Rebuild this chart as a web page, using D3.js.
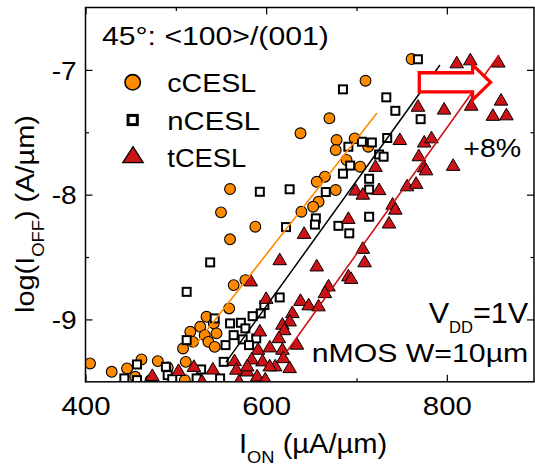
<!DOCTYPE html>
<html><head><meta charset="utf-8">
<script src="https://cdn.jsdelivr.net/npm/d3@7"></script>
<style>body{margin:0;background:#fff}svg{display:block}text{font-family:"Liberation Sans",Arial,sans-serif}</style>
</head><body>
<svg id="c" width="535" height="466"></svg>
<script>
// ---------- data ----------
const xMajorTicks = [400, 600, 800];
const xMinorTicks = [500, 700];
const yMajorTicks = [-9, -8, -7];
const yMinorTicks = [-8.5, -7.5];
const seriesNames = ["cCESL", "nCESL", "tCESL"];

const cCESL = [[761,-6.913],[710,-7.087],[670,-7.388],[638,-7.508],[678,-7.562],[677,-7.642],[698,-7.549],[689,-7.722],[704,-7.776],[713,-7.616],[665,-7.856],[656,-7.897],[677,-7.963],[658,-8.057],[652,-8.097],[639,-8.137],[588,-8.257],[560,-7.955],[550,-8.142],[560,-8.358],[577,-8.685],[564,-8.725],[559,-8.912],[534,-8.979],[527,-9.059],[542,-9.032],[516,-9.099],[545,-9.112],[532,-9.126],[519,-9.18],[536,-9.18],[508,-9.233],[543,-9.22],[511,-9.34],[510,-9.487],[491,-9.385],[480,-9.334],[462,-9.321],[455,-9.46],[446,-9.393],[429,-9.42],[405,-9.353],[472,-9.487]];

const nCESL = [[768,-6.915],[685,-7.156],[733,-7.22],[743,-7.328],[771,-7.395],[734,-7.546],[691,-7.616],[706,-7.576],[717,-7.582],[725,-7.678],[730,-7.696],[693,-7.767],[685,-7.832],[714,-7.873],[714,-7.959],[666,-7.979],[626,-7.957],[593,-7.977],[655,-8.19],[654,-8.24],[622,-8.26],[680,-8.25],[692,-8.31],[714,-8.177],[538,-8.543],[512,-8.779],[615,-8.824],[598,-8.885],[594,-8.952],[585,-8.974],[543,-8.992],[560,-9.032],[572,-9.027],[577,-9.072],[564,-9.126],[574,-9.16],[589,-9.152],[555,-9.206],[581,-9.206],[512,-9.166],[457,-9.361],[489,-9.38],[491,-9.447],[528,-9.401],[553,-9.34],[443,-9.473],[457,-9.487],[523,-9.473],[549,-9.473],[496,-9.479]];

const tCESL = [[811,-6.937],[826,-6.913],[857,-6.931],[860,-7.236],[827,-7.277],[851,-7.358],[866,-7.354],[797,-7.308],[768,-7.285],[748,-7.552],[775,-7.572],[783,-7.538],[769,-7.682],[775,-7.771],[777,-7.795],[807,-7.759],[721,-7.767],[756,-7.923],[766,-7.903],[725,-7.953],[699,-7.957],[707,-7.99],[740,-8.07],[743,-8.11],[736,-8.221],[691,-8.184],[642,-8.304],[707,-8.424],[709,-8.532],[615,-8.515],[656,-8.565],[691,-8.645],[694,-8.665],[669,-8.725],[665,-8.779],[583,-8.685],[600,-8.825],[638,-8.841],[647,-8.877],[658,-8.885],[629,-8.939],[626,-9.006],[618,-9.032],[593,-9.086],[620,-9.076],[614,-9.14],[634,-9.192],[604,-9.214],[618,-9.233],[591,-9.233],[596,-9.326],[584,-9.31],[565,-9.324],[619,-9.3],[610,-9.366],[567,-9.393],[579,-9.407],[590,-9.447],[570,-9.487],[520,-9.37],[503,-9.403],[541,-9.391],[474,-9.443],[529,-9.487],[599,-9.471],[626,-9.38],[579,-9.366],[604,-9.366]];

const fitC = [[519,-9.23],[722.7,-7.345]];
const fitN = [[555.6,-9.342],[792.4,-6.961]];
const fitT = [[620.9,-9.277],[857.7,-6.88]];
const shiftArrow = {x0: 769.5, x1: 848.4, y: -7.1};

// ---------- layout ----------
const svg = d3.select("#c");
const L = 85.5, R = 534, T = 7.5, B = 381.8;
const x = d3.scaleLinear().domain([400, 896.5]).range([L, R]);
const y = d3.scaleLinear().domain([-9.5, -6.5]).range([B, T]);
const ORANGE = "#ff8a00", RED = "#cc1418";

function fit(el, ax, target) {
  const w = el.getBBox().width;
  if (w > 0) d3.select(el).attr("transform", `translate(${ax},0) scale(${target / w},1) translate(${-ax},0)`);
}

svg.append("defs").append("clipPath").attr("id", "clip")
  .append("rect").attr("x", L).attr("y", T).attr("width", R - L).attr("height", B - T);

// axes (ticks inward)
function styleAxis(g) { g.select(".domain").remove(); g.selectAll("line").attr("stroke", "#000").attr("stroke-width", 1.2); }
svg.append("g").attr("transform", `translate(0,${B})`)
  .call(d3.axisBottom(x).tickValues(xMajorTicks).tickSize(-7).tickFormat(d3.format("d")))
  .call(styleAxis)
  .call(g => g.selectAll("text").attr("y", 33.2).attr("dy", 0).attr("font-size", 25.5).attr("fill", "#000")
    .each(function () { fit(this, 0, 49); }));
svg.append("g").attr("transform", `translate(0,${B})`)
  .call(d3.axisBottom(x).tickValues(xMinorTicks).tickSize(-3.5).tickFormat(""))
  .call(styleAxis);
svg.append("g").attr("transform", `translate(0,${T})`)
  .call(d3.axisTop(x).tickValues(xMajorTicks).tickSize(-7).tickFormat("")).call(styleAxis);
svg.append("g").attr("transform", `translate(0,${T})`)
  .call(d3.axisTop(x).tickValues(xMinorTicks).tickSize(-3.5).tickFormat("")).call(styleAxis);

svg.append("g").attr("transform", `translate(${L},0)`)
  .call(d3.axisLeft(y).tickValues(yMajorTicks).tickSize(-7).tickPadding(8.8).tickFormat(d => d3.format("d")(d).replace("−", "-")))
  .call(styleAxis)
  .call(g => g.selectAll("text").attr("dy", "0.37em").attr("font-size", 25).attr("fill", "#000")
    .each(function () { fit(this, -8.8, 25); }));
svg.append("g").attr("transform", `translate(${L},0)`)
  .call(d3.axisLeft(y).tickValues(yMinorTicks).tickSize(-3.5).tickFormat("")).call(styleAxis);
svg.append("g").attr("transform", `translate(${R},0)`)
  .call(d3.axisRight(y).tickValues(yMajorTicks).tickSize(-7).tickFormat("")).call(styleAxis);
svg.append("g").attr("transform", `translate(${R},0)`)
  .call(d3.axisRight(y).tickValues(yMinorTicks).tickSize(-3.5).tickFormat("")).call(styleAxis);

// markers
const plot = svg.append("g").attr("clip-path", "url(#clip)");
const tri = (w, h) => `M0,${-h / 2}L${w / 2},${h / 2}L${-w / 2},${h / 2}Z`;

plot.append("g").selectAll("circle").data(cCESL).join("circle")
  .attr("cx", d => x(d[0])).attr("cy", d => y(d[1])).attr("r", 5.4)
  .attr("fill", ORANGE).attr("stroke", "#000").attr("stroke-width", 1.1);
plot.append("g").selectAll("rect").data(nCESL).join("rect")
  .attr("x", d => x(d[0]) - 4).attr("y", d => y(d[1]) - 4).attr("width", 8).attr("height", 8)
  .attr("fill", "#fff").attr("stroke", "#000").attr("stroke-width", 2);
plot.append("g").selectAll("path").data(tCESL).join("path")
  .attr("transform", d => `translate(${x(d[0])},${y(d[1])})`).attr("d", tri(13.6, 11.6))
  .attr("fill", RED).attr("stroke", "#000").attr("stroke-width", 1).attr("stroke-linejoin", "miter");

// fit lines
const line = d3.line().x(d => x(d[0])).y(d => y(d[1]));
plot.append("path").attr("d", line(fitC)).attr("stroke", ORANGE).attr("stroke-width", 1.6).attr("fill", "none");
plot.append("path").attr("d", line(fitN)).attr("stroke", "#000").attr("stroke-width", 1.5).attr("fill", "none");
plot.append("path").attr("d", line(fitT)).attr("stroke", RED).attr("stroke-width", 1.6).attr("fill", "none");

// block arrow
{
  const ax0 = x(shiftArrow.x0), ax1 = x(shiftArrow.x1), ay = y(shiftArrow.y);
  const hb = ax1 - 18, bh = 9.6, hh = 17.5;
  const pts = [[ax0, ay - bh], [hb, ay - bh], [hb, ay - hh], [ax1, ay], [hb, ay + hh], [hb, ay + bh], [ax0, ay + bh]];
  svg.append("path").attr("d", "M" + pts.join("L") + "Z")
    .attr("fill", "#fff").attr("stroke", "#ff0000").attr("stroke-width", 3.3).attr("stroke-linejoin", "miter");
}

// frame
svg.append("rect").attr("x", L).attr("y", T).attr("width", R - L).attr("height", B - T)
  .attr("fill", "none").attr("stroke", "#000").attr("stroke-width", 1.5);

// legend
const lg = svg.append("g");
lg.append("circle").attr("cx", 132.7).attr("cy", 82.3).attr("r", 7.7).attr("fill", ORANGE).attr("stroke", "#000").attr("stroke-width", 1.6);
lg.append("rect").attr("x", 132.7 - 4.6).attr("y", 120 - 4.6).attr("width", 9.2).attr("height", 9.2).attr("fill", "#fff").attr("stroke", "#000").attr("stroke-width", 3);
lg.append("path").attr("transform", "translate(133,154.7)").attr("d", tri(20.5, 16)).attr("fill", RED).attr("stroke", "#000").attr("stroke-width", 1.3);
const legY = [91.7, 130, 167.3], legW = [89, 92.7, 79];
seriesNames.forEach((s, i) => {
  const t = lg.append("text").attr("x", 167.3).attr("y", legY[i]).attr("font-size", 25.5).text(s);
  fit(t.node(), 167.3, legW[i]);
});

// annotations
function addText(txt, xx, yy, fs, anchor, width) {
  const t = svg.append("text").attr("x", xx).attr("y", yy).attr("font-size", fs).attr("text-anchor", anchor).text(txt);
  fit(t.node(), xx, width);
  return t;
}
addText("45°: <100>/(001)", 102, 45, 26, "start", 227);
addText("+8%", 463.3, 156.7, 25.5, "start", 58);
addText("nMOS W=10µm", 528.3, 361.7, 25.5, "end", 216.7);
{
  const t = svg.append("text").attr("x", 528.3).attr("y", 323.3).attr("font-size", 29.5).attr("text-anchor", "end");
  t.append("tspan").text("V");
  t.append("tspan").attr("font-size", 16).attr("dy", 9.4).text("DD");
  t.append("tspan").attr("dy", -9.4).text("=1V");
  fit(t.node(), 528.3, 100);
}
// x label
{
  const t = svg.append("text").attr("x", 239).attr("y", 453).attr("font-size", 27);
  t.append("tspan").text("I");
  t.append("tspan").attr("font-size", 17).attr("dy", 10).text("ON");
  t.append("tspan").attr("dy", -10).text(" (µA/µm)");
  fit(t.node(), 239, 148.4);
}
// y label
{
  const g = svg.append("g").attr("transform", "translate(34,313) rotate(-90)");
  const t = g.append("text").attr("x", 0).attr("y", 0).attr("font-size", 26);
  t.append("tspan").text("log(I");
  t.append("tspan").attr("font-size", 16.5).attr("dy", 10).text("OFF");
  t.append("tspan").attr("dy", -10).text(") (A/µm)");
  fit(t.node(), 0, 198);
}
</script>
</body></html>
